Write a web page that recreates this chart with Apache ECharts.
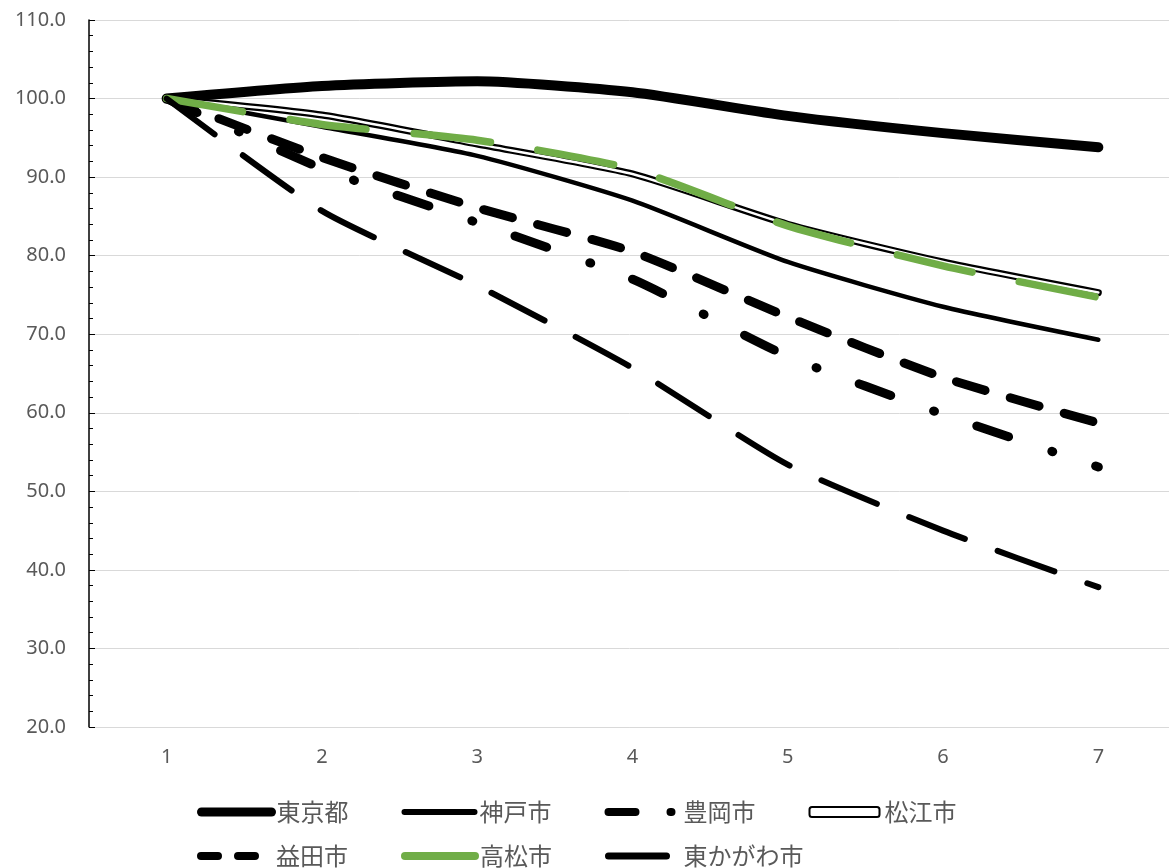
<!DOCTYPE html>
<html><head><meta charset="utf-8">
<script src="https://cdn.jsdelivr.net/npm/echarts@6/dist/echarts.min.js"></script>
<style>html,body{margin:0;padding:0;background:#fff}#c{width:1169px;height:868px}</style>
</head><body><div id="c"></div>
<script>
const categories = ['1','2','3','4','5','6','7'];
const tokyo         = [100, 101.6, 102.2, 100.8, 97.8, 95.6, 93.8];
const kobe          = [100, 96.4, 92.7, 87.0, 79.2, 73.5, 69.3];
const toyooka       = [100, 91.1, 84.2, 77.0, 67.2, 59.8, 53.1];
const matsue        = [100, 97.9, 94.2, 90.4, 84.0, 79.2, 75.3];
const masuda        = [100, 92.5, 86.1, 80.5, 72.2, 64.5, 58.7];
const takamatsu     = [100, 96.7, 94.7, 91.0, 83.8, 78.7, 74.7];
const higashikagawa = [100, 85.7, 76.2, 65.7, 53.4, 45.0, 37.8];

const chart = echarts.init(document.getElementById('c'));
function ser(name, data, color, width, type, z) {
  return {
    type: 'line', name: name, data: data, symbol: 'none', smooth: 0.2, z: z,
    itemStyle: { color: color },
    lineStyle: { color: color, width: width, type: type, cap: 'round', join: 'round' },
    emphasis: { disabled: true }, silent: true
  };
}
function li(name, color, width, type) {
  return { name: name, lineStyle: { color: color, width: width, type: type, cap: 'round' } };
}
const legendCommon = {
  left: 197, padding: 0, itemWidth: 70, itemHeight: 10, itemGap: 53,
  selectedMode: false,
  itemStyle: { opacity: 0 },
  textStyle: { fontSize: 24, color: '#595959', fontFamily: 'Noto Sans CJK JP' }
};
chart.setOption({
  animation: false,
  grid: { left: 89, top: 20, width: 1087, height: 707, outerBoundsMode: 'none' },
  xAxis: {
    type: 'category', data: categories, boundaryGap: true,
    axisLine: { show: true, lineStyle: { color: '#D9D9D9', width: 1 } },
    axisTick: { show: false },
    axisLabel: { color: '#595959', fontSize: 20, fontFamily: 'Noto Sans', margin: 20 }
  },
  yAxis: {
    type: 'value', min: 20, max: 110, interval: 10,
    axisLine: { show: true, lineStyle: { color: '#000', width: 1.5 } },
    axisTick: { show: true, inside: true, length: 6, lineStyle: { color: '#000', width: 1 } },
    minorTick: { show: true, splitNumber: 5, length: 4, lineStyle: { color: '#000', width: 1 } },
    axisLabel: { formatter: v => v.toFixed(1), color: '#595959', fontSize: 20, fontFamily: 'Noto Sans', margin: 23 },
    splitLine: { show: true, lineStyle: { color: '#D9D9D9', width: 1 } }
  },
  legend: [
    Object.assign({}, legendCommon, {
      top: 800,
      data: [
        li('東京都', '#000', 9, 'solid'),
        li('神戸市', '#000', 6, 'solid'),
        li('豊岡市', '#000', 8, [27, 35, 1, 40]),
        { name: '松江市', icon: 'roundRect', itemStyle: { color: '#fff', borderColor: '#000', borderWidth: 2, opacity: 1 } }
      ]
    }),
    Object.assign({}, legendCommon, {
      top: 844,
      data: [
        li('益田市', '#000', 8, [17, 20]),
        li('高松市', '#70AD47', 8, 'solid'),
        li('東かがわ市', '#000', 7, [58, 40])
      ]
    })
  ],
  series: [
    ser('東京都', tokyo, '#000', 10, 'solid', 2),
    ser('神戸市', kobe, '#000', 4.5, 'solid', 3),
    ser('豊岡市', toyooka, '#000', 9, [33.5, 45.5, 1, 45], 4),
    ser('松江市', matsue, '#000', 7, 'solid', 5),
    ser('松江市内', matsue, '#fff', 2.5, 'solid', 6),
    ser('益田市', masuda, '#000', 9, [30, 26], 7),
    ser('高松市', takamatsu, '#70AD47', 7.5, [77, 48], 8),
    ser('東かがわ市', higashikagawa, '#000', 6, [60, 35], 9)
  ]
});
</script></body></html>
